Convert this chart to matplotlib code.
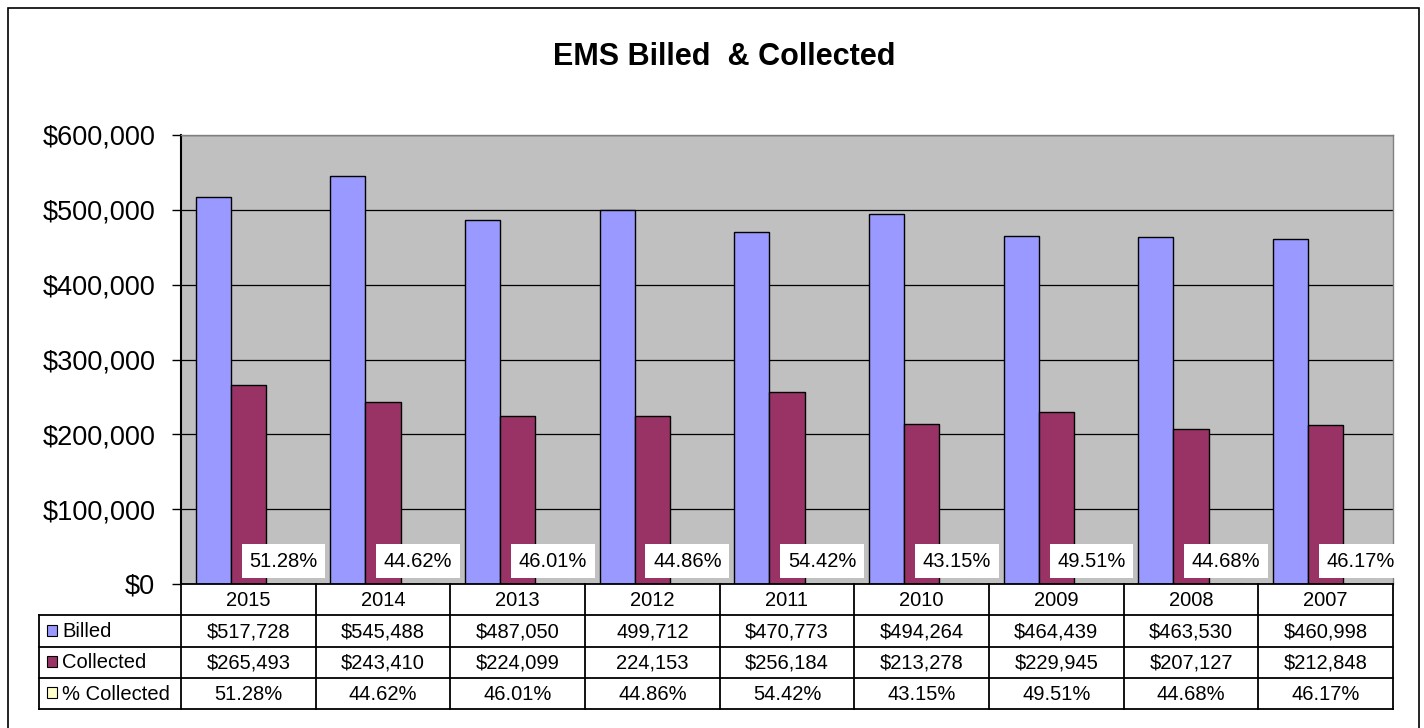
import matplotlib
matplotlib.use("Agg")
import matplotlib.pyplot as plt
from matplotlib.patches import Rectangle
import numpy as np

plt.rcParams['font.family'] = ['Liberation Sans', 'DejaVu Sans']

years = ["2015", "2014", "2013", "2012", "2011", "2010", "2009", "2008", "2007"]
billed = [517728, 545488, 487050, 499712, 470773, 494264, 464439, 463530, 460998]
collected = [265493, 243410, 224099, 224153, 256184, 213278, 229945, 207127, 212848]
pct = [51.28, 44.62, 46.01, 44.86, 54.42, 43.15, 49.51, 44.68, 46.17]
billed_txt = ["$517,728", "$545,488", "$487,050", "499,712", "$470,773",
              "$494,264", "$464,439", "$463,530", "$460,998"]
collected_txt = ["$265,493", "$243,410", "$224,099", "224,153", "$256,184",
                 "$213,278", "$229,945", "$207,127", "$212,848"]
pct_txt = [f"{p:.2f}%" for p in pct]
yticks = [0, 100000, 200000, 300000, 400000, 500000, 600000]

C_BILLED = "#9999FF"
C_COLL = "#993366"
C_PCT = "#FFFFCC"

W, H = 1424, 728
fig = plt.figure(figsize=(W / 100, H / 100), dpi=100)

# outer border
fig.patches.append(Rectangle((8 / W, -0.01), (1419 - 8) / W, (728 - 8) / H + 0.01,
                             transform=fig.transFigure, fill=False,
                             edgecolor="black", lw=1.2))

ax_l, ax_r, ax_t, ax_b = 181, 1393, 135, 584
ax = fig.add_axes([ax_l / W, (H - ax_b) / H, (ax_r - ax_l) / W, (ax_b - ax_t) / H])
ax.set_facecolor("#C0C0C0")

x = np.arange(len(years))
bw = 0.26
ax.bar(x - bw, billed, bw, color=C_BILLED, edgecolor="black", lw=1.0, zorder=3)
ax.bar(x, collected, bw, color=C_COLL, edgecolor="black", lw=1.0, zorder=3)
ax.bar(x + bw, [p / 100 for p in pct], bw, color=C_PCT, edgecolor="black", lw=1.0, zorder=3)

for xi, t in zip(x, pct_txt):
    ax.text(xi + bw, 30500, t, ha="center", va="center", fontsize=14.5, zorder=5,
            bbox=dict(boxstyle="square,pad=0.38", facecolor="white", edgecolor="none"))

ax.set_xlim(-0.5, len(years) - 0.5)
ax.set_ylim(0, 600000)
ax.set_yticks(yticks)
ax.set_yticklabels([f"${v:,.0f}" for v in yticks], fontsize=19.5)
ax.yaxis.grid(True, color="black", lw=0.9, zorder=1)
ax.set_axisbelow(True)
ax.set_xticks([])
ax.tick_params(axis="y", length=6.5, width=1, pad=12, direction="out")
ax.spines["left"].set_color("black")
ax.spines["left"].set_linewidth(1.5)
for s in ["top", "right"]:
    ax.spines[s].set_color("#808080")
    ax.spines[s].set_linewidth(1.0)
ax.spines["bottom"].set_visible(False)

fig.text(724 / W, 1 - 57 / H, "EMS Billed  & Collected", ha="center", va="center",
         fontsize=22, fontweight="bold")

# data table
tb_l, tb_t, tb_b = 39, 584, 709
unit = (ax_r - ax_l) / len(years)
tax = fig.add_axes([tb_l / W, (H - tb_b) / H, (ax_r - tb_l) / W, (tb_b - tb_t) / H])
left_x = -0.5 - (ax_l - tb_l) / unit
tax.set_xlim(left_x, len(years) - 0.5)
tax.set_ylim(4, 0)
tax.axis("off")

lw = 1.3
tax.plot([-0.5, len(years) - 0.5], [0, 0], color="black", lw=lw, clip_on=False)
for r in [1, 2, 3, 4]:
    tax.plot([left_x, len(years) - 0.5], [r, r], color="black", lw=lw, clip_on=False)
tax.plot([left_x, left_x], [1, 4], color="black", lw=lw, clip_on=False)
for k in range(len(years) + 1):
    tax.plot([k - 0.5, k - 0.5], [0, 4], color="black", lw=lw, clip_on=False)

fs = 14.5
for i, y in enumerate(years):
    tax.text(i, 0.52, y, ha="center", va="center", fontsize=fs)
    tax.text(i, 1.52, billed_txt[i], ha="center", va="center", fontsize=fs)
    tax.text(i, 2.52, collected_txt[i], ha="center", va="center", fontsize=fs)
    tax.text(i, 3.52, pct_txt[i], ha="center", va="center", fontsize=fs)

row_names = ["Billed", "Collected", "% Collected"]
row_colors = [C_BILLED, C_COLL, C_PCT]
sw = 10 / unit
for r, (nm, c) in enumerate(zip(row_names, row_colors)):
    tax.add_patch(Rectangle((left_x + 8 / unit, r + 1.5 - 0.2), sw, 0.36,
                            facecolor=c, edgecolor="black", lw=0.8, clip_on=False))
    tax.text(left_x + 23 / unit, r + 1.52, nm, ha="left", va="center", fontsize=fs)

fig.savefig("out.png", dpi=100)
